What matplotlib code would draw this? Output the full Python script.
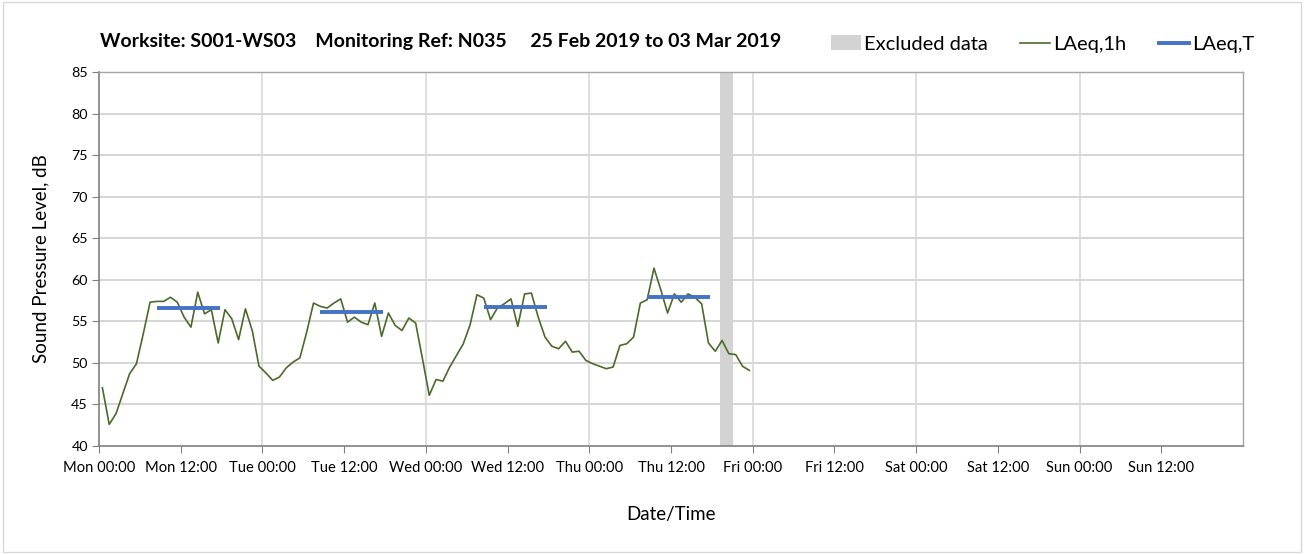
import numpy as np
import matplotlib.pyplot as plt
from matplotlib.patches import Patch, Rectangle
from matplotlib.lines import Line2D

plt.rcParams['font.family'] = ['Lato', 'DejaVu Sans']

# hourly LAeq,1h values, Mon 00:00 onwards (one per hour)
laeq_1h = [
    47.0, 42.6, 43.9, 46.3, 48.7, 49.9, 53.5, 57.3, 57.4, 57.4, 57.9, 57.3,
    55.5, 54.3, 58.5, 55.9, 56.4, 52.4, 56.4, 55.3, 52.8, 56.5, 53.9, 49.6,
    48.8, 47.9, 48.3, 49.4, 50.1, 50.6, 53.7, 57.2, 56.8, 56.6, 57.2, 57.7,
    54.9, 55.5, 54.9, 54.6, 57.2, 53.2, 56.0, 54.5, 53.9, 55.4, 54.8, 50.5,
    46.1, 48.0, 47.8, 49.5, 50.9, 52.3, 54.6, 58.2, 57.8, 55.2, 56.6, 57.1,
    57.7, 54.4, 58.3, 58.4, 55.5, 53.1, 52.0, 51.7, 52.6, 51.3, 51.4, 50.3,
    49.9, 49.6, 49.3, 49.5, 52.1, 52.3, 53.1, 57.2, 57.6, 61.4, 58.8, 56.0,
    58.3, 57.3, 58.3, 57.9, 57.1, 52.4, 51.4, 52.7, 51.1, 51.0, 49.6, 49.1,
]

# daytime LAeq,T per day (Mon..Thu)
laeq_t_days = [0, 1, 2, 3]
laeq_t = [56.6, 56.1, 56.7, 57.9]
period_start = 8.5
period_end = 17.75

# excluded data window (hours from Mon 00:00)
excl_start = 91.2
excl_end = 93.1

tick_labels = ['Mon 00:00', 'Mon 12:00', 'Tue 00:00', 'Tue 12:00', 'Wed 00:00',
               'Wed 12:00', 'Thu 00:00', 'Thu 12:00', 'Fri 00:00', 'Fri 12:00',
               'Sat 00:00', 'Sat 12:00', 'Sun 00:00', 'Sun 12:00']

green = '#4a6b2a'
blue = '#4472c4'
grey = '#d3d3d3'

fig = plt.figure(figsize=(13.04, 5.54), dpi=100)
ax = fig.add_axes([99 / 1304, 1 - 446 / 554, (1243 - 99) / 1304, (446 - 72) / 554])

hours = np.arange(len(laeq_1h)) + 0.5
ax.axvspan(excl_start, excl_end, color=grey, lw=0, zorder=1)
ax.plot(hours, laeq_1h, color=green, lw=1.2, zorder=3)
for d, v in zip(laeq_t_days, laeq_t):
    ax.plot([24 * d + period_start, 24 * d + period_end], [v, v], color=blue, lw=2.8,
            solid_capstyle='butt', zorder=4)

ax.set_xlim(0, 168)
ax.set_ylim(40, 85)
ax.set_xticks(np.arange(0, 168, 12))
ax.set_xticklabels(tick_labels, fontsize=10.6)
ax.set_yticks(np.arange(40, 86, 5))
ax.tick_params(axis='y', labelsize=10.3, length=5, color='#808080', pad=3)
ax.tick_params(axis='x', length=5, color='#808080', pad=6)

# gridlines: horizontal every 5 dB, vertical every 24 h
for y in range(45, 86, 5):
    ax.axhline(y, color='#d0d0d0', lw=1.2, zorder=0)
for x in range(24, 168, 24):
    ax.axvline(x, color='#d9d9d9', lw=1.2, zorder=0)

for s in ['left', 'bottom']:
    ax.spines[s].set_color('#808080')
    ax.spines[s].set_linewidth(1.2)
for s in ['top', 'right']:
    ax.spines[s].set_color('#a6a6a6')
    ax.spines[s].set_linewidth(1.0)

ax.set_ylabel('Sound Pressure Level, dB', fontsize=13.5, labelpad=16)
ax.set_xlabel('Date/Time', fontsize=13.5, labelpad=22)

fig.text(100 / 1304, 1 - 42 / 554,
         'Worksite: S001-WS03    Monitoring Ref: N035     25 Feb 2019 to 03 Mar 2019',
         fontsize=14, fontweight='bold', va='center', ha='left')

handles = [Patch(facecolor=grey, edgecolor='none'),
           Line2D([], [], color=green, lw=1.2),
           Line2D([], [], color=blue, lw=2.8)]
fig.legend(handles, ['Excluded data', 'LAeq,1h', 'LAeq,T'], ncol=3, frameon=False,
           loc='center right', bbox_to_anchor=(1262 / 1304, 1 - 44 / 554),
           fontsize=14.5, handlelength=1.5, handletextpad=0.15, columnspacing=1.6,
           borderaxespad=0)

# chart border
fig.patches.append(Rectangle((0.002, 0.004), 0.996, 0.992, transform=fig.transFigure,
                             fill=False, edgecolor='#d9d9d9', lw=1.0))

fig.savefig('out.png', dpi=100)
